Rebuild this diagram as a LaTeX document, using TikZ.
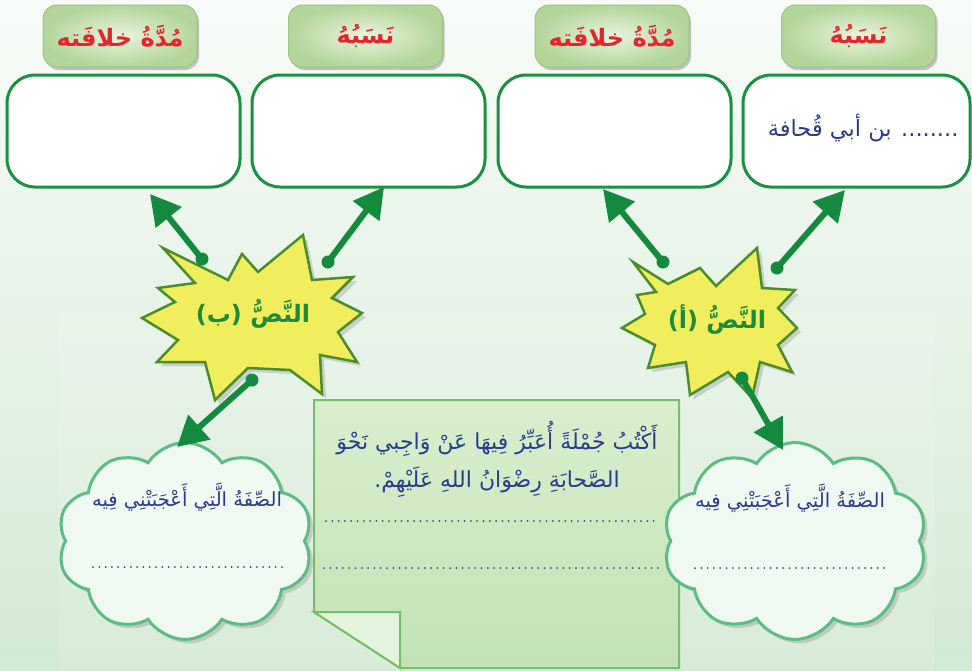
\documentclass[tikz,border=0pt]{standalone}
\usepackage{fontspec}
\usetikzlibrary{shapes.symbols,shadows,arrows.meta}
\TeXXeTstate=1
\newfontfamily\arabicfont[Script=Arabic]{DejaVu Sans}
\definecolor{bgtop}{HTML}{F8FBF8}
\definecolor{bgbot}{HTML}{D3EAD4}
\definecolor{tabin}{HTML}{EAF4DF}
\definecolor{tabout}{HTML}{B3D59A}
\definecolor{tabline}{HTML}{9CC483}
\definecolor{boxgreen}{HTML}{1A9142}
\definecolor{tabred}{HTML}{E4262C}
\definecolor{txtblue}{HTML}{2C3C8C}
\definecolor{arrgreen}{HTML}{148A3E}
\definecolor{staryellow}{HTML}{F1EE5E}
\definecolor{starline}{HTML}{4B8C2C}
\definecolor{startext}{HTML}{1E8A3A}
\definecolor{cloudfill}{HTML}{EFF8F1}
\definecolor{cloudline}{HTML}{5CBD83}
\definecolor{notetop}{HTML}{D9EECD}
\definecolor{notebot}{HTML}{C3E2B6}
\definecolor{noteline}{HTML}{76BF6C}
\definecolor{flapfill}{HTML}{E4F3DC}
\definecolor{dotcol}{HTML}{3A4A7A}
\begin{document}
\begin{tikzpicture}[x=1pt,y=-1pt,
  tabbox/.style={rounded corners=14pt, inner color=tabin, outer color=tabout, draw=tabline, line width=1pt,
    minimum width=154pt, minimum height=62pt, text=tabred, font=\arabicfont\bfseries\fontsize{24}{28}\selectfont,
    drop shadow={shadow xshift=2pt, shadow yshift=-3pt, opacity=0.45}},
  answerbox/.style={rounded corners=28pt, draw=boxgreen, line width=3pt, fill=white,
    minimum width=233pt, minimum height=112pt},
  starshape/.style={fill=staryellow, draw=starline, line width=2.5pt, line join=miter,
    drop shadow={shadow xshift=4pt, shadow yshift=-4pt, opacity=0.3}},
  startxt/.style={text=startext, font=\arabicfont\bfseries\fontsize{24}{28}\selectfont},
  cloudsh/.style={cloud, cloud puffs=10, cloud puff arc=115, aspect=1.3, draw=cloudline, line width=3pt,
    fill=cloudfill, drop shadow={shadow xshift=4pt, shadow yshift=-4pt, opacity=0.3}},
  bluetxt/.style={text=txtblue, font=\arabicfont\fontsize{19.5}{24}\selectfont},
  dotline/.style={dotcol, line width=2pt, line cap=round, dash pattern=on 0pt off 6.3pt},
  arr/.style={line width=6pt, arrgreen, -{Triangle[length=30pt,width=32pt]}},
  tail/.style={circle, fill=arrgreen, inner sep=0pt, minimum size=13pt}
]
\useasboundingbox (0,0) rectangle (972,670);
\fill[top color=bgtop, bottom color=bgbot] (0,0) rectangle (972,670);
\fill[white, opacity=0.12] (58,312) rectangle (935,670);

% answer boxes
\node[answerbox] (box1) at (123.5,131) {};
\node[answerbox] (box2) at (368.5,131) {};
\node[answerbox] (box3) at (614.5,131) {};
\node[answerbox, minimum width=227pt] (box4) at (856.5,131) {};
\node[bluetxt, anchor=east, font=\arabicfont\fontsize{22.5}{26}\selectfont] (box4txt) at (962,128) {\beginR ........ بن أبي قُحافة\endR};

% tabs
\node[tabbox] (tab1) at (120,36) {\beginR مُدَّةُ خلافَته\endR};
\node[tabbox] (tab2) at (365.5,36) {\beginR نَسَبُهُ\endR};
\node[tabbox] (tab3) at (612,36) {\beginR مُدَّةُ خلافَته\endR};
\node[tabbox] (tab4) at (858.5,36) {\beginR نَسَبُهُ\endR};

% note
\path[top color=notetop, bottom color=notebot, draw=noteline, line width=2pt]
  (314,400) -- (679,400) -- (679,668) -- (400,668) -- (314,612) -- cycle;
\path[fill=flapfill, draw=noteline, line width=2pt] (314,612) -- (400,612) -- (400,668) -- cycle;
\node[bluetxt, align=center, font=\arabicfont\fontsize{22}{38}\selectfont] (notetxt) at (497,459)
  {\beginR أَكْتُبُ جُمْلَةً أُعَبِّرُ فِيهَا عَنْ وَاجِبي نَحْوَ\endR\\ \beginR الصَّحابَةِ رِضْوَانُ اللهِ عَلَيْهِمْ.\endR};
\coordinate (n1a) at (326,521); \coordinate (n1b) at (658,521);
\coordinate (n2a) at (324,568); \coordinate (n2b) at (660,568);
\draw[dotline] (n1a) -- (n1b);
\draw[dotline] (n2a) -- (n2b);

% clouds
\node[cloudsh, minimum width=255pt, minimum height=197pt] (cloudL) at (185,541) {};
\node[cloudsh, minimum width=264pt, minimum height=197pt] (cloudR) at (795,541) {};
\node[bluetxt] (cloudLtxt) at (187,497) {\beginR الصِّفَةُ الَّتِي أَعْجَبَتْنِي فِيه\endR};
\node[bluetxt] (cloudRtxt) at (790,498) {\beginR الصِّفَةُ الَّتِي أَعْجَبَتْنِي فِيه\endR};
\coordinate (cl1) at (93,567); \coordinate (cl2) at (287,567);
\coordinate (cr1) at (695,568); \coordinate (cr2) at (887,568);
\draw[dotline] (cl1) -- (cl2);
\draw[dotline] (cr1) -- (cr2);

% star B
\path[starshape] (163,248) -- (228,280) -- (242,254) -- (258,272) -- (303,235) -- (312,280)
  -- (353,277) -- (332,298) -- (362,313) -- (338,332) -- (357,362) -- (320,355) -- (322,394)
  -- (290,370) -- (248,368) -- (215,400) -- (205,362) -- (157,362) -- (178,340) -- (142,318)
  -- (175,302) -- (158,288) -- (195,283) -- cycle;
\node[startxt] (starB) at (253,314) {\beginR النَّصُّ (ب)\endR};

% star A
\path[starshape] (633,262) -- (668,284) -- (700,268) -- (716,286) -- (757,248) -- (762,288)
  -- (795,290) -- (778,308) -- (797,328) -- (778,345) -- (792,372) -- (760,362) -- (752,398)
  -- (728,372) -- (690,395) -- (686,362) -- (648,368) -- (655,345) -- (622,328) -- (645,314)
  -- (637,295) -- (656,292) -- cycle;
\node[startxt] (starA) at (717,320) {\beginR النَّصُّ (أ)\endR};

% arrows
\node[tail] (dB1) at (202,259) {};
\node[tail] (dB2) at (328,262) {};
\node[tail] (dB3) at (252,380) {};
\node[tail] (dA1) at (663,262) {};
\node[tail] (dA2) at (777,268) {};
\node[tail] (dA3) at (742,378) {};
\coordinate (tB1) at (150,194);
\coordinate (tB2) at (384,187);
\coordinate (tB3) at (177,447);
\coordinate (tA1) at (603,189);
\coordinate (tA2) at (845,190);
\coordinate (tA3) at (783,450);
\draw[arr] (dB1.center) -- (tB1);
\draw[arr] (dB2.center) -- (tB2);
\draw[arr] (dB3.center) -- (tB3);
\draw[arr] (dA1.center) -- (tA1);
\draw[arr] (dA2.center) -- (tA2);
\draw[arr] (dA3.center) -- (tA3);
\end{tikzpicture}
\end{document}
